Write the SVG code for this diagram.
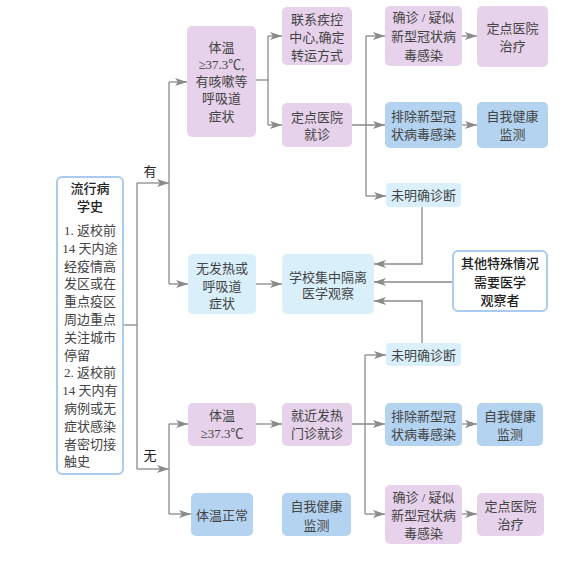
<svg xmlns="http://www.w3.org/2000/svg" width="587" height="562" viewBox="0 0 587 562">
<defs>
<marker id="arr" viewBox="0 0 12 8" refX="12" refY="4" markerWidth="12" markerHeight="8" orient="auto" markerUnits="userSpaceOnUse">
<path d="M0,0 L12,4 L0,8 L3,4 z" fill="#8a8a8a"/>
</marker>
<style>
.pink{fill:#e6d2ea;}
.blue{fill:#b3d3f0;}
.lb{fill:#d9effa;}
.wb{fill:#ffffff;stroke:#a9cbee;stroke-width:2;}
text{font-family:"Liberation Serif","Noto Sans CJK SC",serif;font-size:13px;fill:#444;text-anchor:middle;}
.hd{font-family:"Noto Sans CJK SC",sans-serif;fill:#222;font-weight:500;}
.lbl{font-family:"Noto Sans CJK SC",sans-serif;fill:#222;}
.c path{fill:none;stroke:#8a8a8a;stroke-width:1.3;}
.c path.a{marker-end:url(#arr);}
</style>
</defs>
<rect width="587" height="562" fill="#ffffff"/>

<g class="c" id="connectors">
<path d="M123,325 H137"/>
<path d="M137,183 V469"/>
<path class="a" d="M137,183 H169"/>
<path class="a" d="M137,469 H169"/>
<path d="M169,82 V284"/>
<path class="a" d="M169,82 H187"/>
<path class="a" d="M169,284 H188"/>
<path d="M169,424 V514"/>
<path class="a" d="M169,424 H188"/>
<path class="a" d="M169,514 H191"/>
<path d="M256,80 H268"/>
<path d="M268,36 V125"/>
<path class="a" d="M268,36 H282"/>
<path class="a" d="M268,125 H282"/>
<path class="a" d="M352,125 H385"/>
<path d="M366,36 V196"/>
<path class="a" d="M366,36 H385"/>
<path class="a" d="M366,196 H386"/>
<path class="a" d="M462,36 H477"/>
<path class="a" d="M462,125 H477"/>
<path class="a" d="M422,207 V264 H374"/>
<path class="a" d="M453,282 H374"/>
<path class="a" d="M422,343 V301 H374"/>
<path class="a" d="M256,284 H282"/>
<path class="a" d="M256,424 H282"/>
<path class="a" d="M352,424 H385"/>
<path d="M365,355 V514"/>
<path class="a" d="M365,355 H386"/>
<path class="a" d="M365,514 H385"/>
<path class="a" d="M462,424 H477"/>
<path class="a" d="M462,514 H477"/>
</g>
<text class="lbl" x="150" y="176">有</text>
<text class="lbl" x="150" y="460">无</text>

<g id="n-history">
<rect class="wb" x="57" y="177" width="66" height="297" rx="5"/>
<text class="hd" x="90" y="193">流行病</text>
<text class="hd" x="90" y="211">学史</text>
<text x="90" y="235">1. 返校前</text>
<text x="90" y="252.8">14 天内途</text>
<text x="90" y="270.6">经疫情高</text>
<text x="90" y="288.4">发区或在</text>
<text x="90" y="306.2">重点疫区</text>
<text x="90" y="324">周边重点</text>
<text x="90" y="341.8">关注城市</text>
<text x="77" y="359.6">停留</text>
<text x="90" y="377.4">2. 返校前</text>
<text x="90" y="395.2">14 天内有</text>
<text x="90" y="413">病例或无</text>
<text x="90" y="430.8">症状感染</text>
<text x="90" y="448.6">者密切接</text>
<text x="77" y="466.4">触史</text>
</g>

<g id="n-fever-cough">
<rect class="pink" x="187" y="26" width="69" height="111" rx="5"/>
<text x="221.5" y="52">体温</text>
<text x="221.5" y="69">≥37.3℃,</text>
<text x="221.5" y="86">有咳嗽等</text>
<text x="221.5" y="103">呼吸道</text>
<text x="221.5" y="121">症状</text>
</g>
<g id="n-contact-cdc">
<rect class="pink" x="282" y="7" width="70" height="58" rx="5"/>
<text x="317" y="24">联系疾控</text>
<text x="317" y="42">中心,确定</text>
<text x="317" y="60">转运方式</text>
</g>
<g id="n-hospital-visit">
<rect class="pink" x="282" y="103" width="70" height="44" rx="5"/>
<text x="317" y="122">定点医院</text>
<text x="317" y="139">就诊</text>
</g>
<g id="n-confirmed1">
<rect class="pink" x="385" y="6" width="77" height="60" rx="5"/>
<text x="423.5" y="22">确诊 / 疑似</text>
<text x="423.5" y="41">新型冠状病</text>
<text x="423.5" y="60">毒感染</text>
</g>
<g id="n-treat1">
<rect class="pink" x="477" y="6" width="71" height="61" rx="5"/>
<text x="512.5" y="33">定点医院</text>
<text x="512.5" y="51">治疗</text>
</g>
<g id="n-excluded1">
<rect class="blue" x="385" y="102" width="77" height="46" rx="5"/>
<text x="423.5" y="121">排除新型冠</text>
<text x="423.5" y="139">状病毒感染</text>
</g>
<g id="n-selfmon1">
<rect class="blue" x="477" y="102" width="71" height="46" rx="5"/>
<text x="512.5" y="121">自我健康</text>
<text x="512.5" y="139">监测</text>
</g>
<g id="n-unclear1">
<rect class="lb" x="386" y="183" width="75" height="24" rx="4"/>
<text x="423.5" y="200">未明确诊断</text>
</g>
<g id="n-nofever">
<rect class="lb" x="188" y="254" width="68" height="60" rx="5"/>
<text x="222" y="273">无发热或</text>
<text x="222" y="291">呼吸道</text>
<text x="222" y="308">症状</text>
</g>
<g id="n-quarantine">
<rect class="lb" x="282" y="254" width="92" height="60" rx="5"/>
<text x="328" y="282">学校集中隔离</text>
<text x="328" y="298">医学观察</text>
</g>
<g id="n-other">
<rect class="wb" x="453" y="251" width="94" height="60" rx="5"/>
<text class="hd" x="500" y="268">其他特殊情况</text>
<text class="hd" x="500" y="287">需要医学</text>
<text class="hd" x="500" y="305">观察者</text>
</g>
<g id="n-unclear2">
<rect class="lb" x="386" y="343" width="75" height="23" rx="4"/>
<text x="423.5" y="360">未明确诊断</text>
</g>
<g id="n-fever2">
<rect class="pink" x="188" y="403" width="68" height="43" rx="5"/>
<text x="222" y="420">体温</text>
<text x="222" y="438">≥37.3℃</text>
</g>
<g id="n-clinic">
<rect class="pink" x="282" y="403" width="70" height="43" rx="5"/>
<text x="317" y="420">就近发热</text>
<text x="317" y="438">门诊就诊</text>
</g>
<g id="n-excluded2">
<rect class="blue" x="385" y="403" width="77" height="43" rx="5"/>
<text x="423.5" y="421">排除新型冠</text>
<text x="423.5" y="439">状病毒感染</text>
</g>
<g id="n-selfmon2">
<rect class="blue" x="477" y="403" width="66" height="43" rx="5"/>
<text x="510" y="421">自我健康</text>
<text x="510" y="439">监测</text>
</g>
<g id="n-normal">
<rect class="blue" x="191" y="493" width="62" height="43" rx="5"/>
<text x="222" y="520">体温正常</text>
</g>
<g id="n-selfmon3">
<rect class="blue" x="282" y="493" width="69" height="43" rx="5"/>
<text x="316.5" y="511">自我健康</text>
<text x="316.5" y="530">监测</text>
</g>
<g id="n-confirmed2">
<rect class="pink" x="385" y="485" width="77" height="59" rx="5"/>
<text x="423.5" y="502">确诊 / 疑似</text>
<text x="423.5" y="520">新型冠状病</text>
<text x="423.5" y="538">毒感染</text>
</g>
<g id="n-treat2">
<rect class="pink" x="477" y="493" width="67" height="43" rx="5"/>
<text x="510.5" y="511">定点医院</text>
<text x="510.5" y="529">治疗</text>
</g>
</svg>
